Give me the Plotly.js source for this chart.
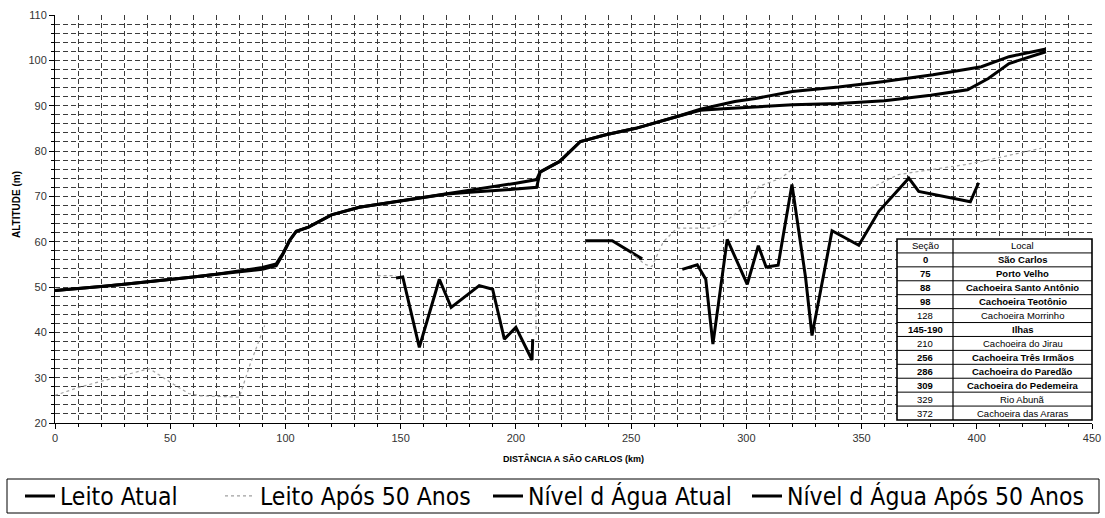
<!DOCTYPE html>
<html>
<head>
<meta charset="utf-8">
<script src="https://cdn.plot.ly/plotly-3.0.1.min.js"></script>
<style>html,body{margin:0;padding:0;background:#fff;}#chart{width:1105px;height:518px;}</style>
</head>
<body>
<div id="chart"></div>
<script>
// ---- data ----
const nivelAtualX = [0, 10, 20, 30, 40, 50, 60, 70, 80, 90, 96, 98.9, 101.8, 104.7, 110, 120, 132, 145, 150, 160, 170, 180, 190, 200, 209, 210.5, 219, 228, 239, 252, 270, 280, 290, 300, 320, 340, 360, 380, 396, 405, 414, 430];
const nivelAtualY = [49.2, 49.6, 50.1, 50.6, 51.1, 51.6, 52.2, 52.8, 53.3, 53.9, 54.7, 57.2, 60.2, 62.3, 63.2, 65.9, 67.6, 68.6, 69.1, 69.8, 70.5, 70.9, 71.2, 71.6, 72.0, 75.3, 77.7, 82.1, 83.6, 85.0, 87.6, 89.0, 89.3, 89.6, 90.2, 90.5, 91.1, 92.3, 93.5, 96.0, 99.3, 101.9];

const nivelApos50X = [0, 10, 20, 30, 40, 50, 60, 70, 80, 90, 96, 98.9, 101.8, 104.7, 110, 120, 132, 145, 150, 160, 170, 180, 190, 200, 209, 210.5, 219, 228, 239, 252, 270, 280, 295, 304, 320, 340, 359, 381, 395, 402, 414, 430];
const nivelApos50Y = [49.2, 49.6, 50.1, 50.6, 51.1, 51.6, 52.2, 52.8, 53.6, 54.3, 55.1, 57.4, 60.3, 62.3, 63.2, 65.9, 67.6, 68.6, 69.1, 69.8, 70.6, 71.4, 72.2, 72.9, 73.7, 75.4, 77.7, 82.1, 83.6, 85.0, 87.6, 89.2, 90.9, 91.6, 93.1, 94.1, 95.3, 96.8, 98.0, 98.6, 100.8, 102.5];

const leitoAtualX = [148, 150.9, 158.1, 166.8, 171.9, 184.1, 189.9, 195, 200, 207, 207.3, null, 230.4, 241.8, 254.8, null, 272.2, 278.7, 282.4, 285.5, 291.7, 300.4, 305.2, 308.6, 313.8, 319.8, 325.7, 328.5, 337.2, 348.8, 357.5, 370.5, 374.8, 397.2, 400.8];
const leitoAtualY = [52.0, 52.2, 36.7, 51.7, 45.5, 50.3, 49.5, 38.5, 41.1, 33.9, 38.5, null, 60.2, 60.2, 56.2, null, 53.9, 54.9, 51.7, 37.4, 60.5, 50.6, 59.1, 54.4, 54.8, 72.6, 52.1, 39.3, 62.4, 59.2, 66.7, 74.0, 71.1, 68.8, 73.0];

const leitoApos50X = [0, 10, 20, 30, 41, 50, 58, 63, 72, 80, 84.5, 91, null, 140, 148, null, 208.5, 208.8, null, 250, 256, 259, 264, 270, 284, 291, 300, 305.5, 315, 320, null, 354, 366, 375, 395, 402, 428];
const leitoApos50Y = [26.1, 27.8, 29.2, 30.5, 32.0, 29.0, 26.5, 26.0, 25.8, 25.7, 32.7, 41.5, null, 52.5, 52.5, null, 52.0, 39.0, null, 57.5, 55.0, 54.5, 60.0, 63.0, 63.0, 64.5, 68.0, 72.2, 74.0, 76.0, null, 71.8, 74.8, 75.5, 77.0, 77.7, 80.6];

const tabelaCabecalho = ['Seção', 'Local'];
const tabelaSecao = ['0', '75', '88', '98', '128', '145-190', '210', '256', '286', '309', '329', '372'];
const tabelaLocal = ['São Carlos', 'Porto Velho', 'Cachoeira Santo Antônio', 'Cachoeira Teotônio', 'Cachoeira Morrinho', 'Ilhas', 'Cachoeira do Jirau', 'Cachoeira Três Irmãos', 'Cachoeira do Paredão', 'Cachoeira do Pedemeira', 'Rio Abunã', 'Cachoeira das Araras'];
const tabelaNegrito = [true, true, true, true, false, true, false, true, true, true, false, false];

// ---- layout helpers (pixels) ----
const W = 1105, H = 518, ML = 55, MR = 13, MT = 15, MB = 95;
const PW = W - ML - MR, PH = H - MT - MB;
const px = x => (x - ML) / PW;
const py = y => (H - MB - y) / PH;

const legFont = {family: 'Liberation Sans Narrow, Arial Narrow, DejaVu Sans Condensed, sans-serif', size: 24.5, color: '#000'};
const tabFont = 'Arial, Liberation Sans, sans-serif';

const traces = [
  {type: 'scatter', mode: 'lines', name: 'Leito Atual', x: leitoAtualX, y: leitoAtualY, connectgaps: false,
   line: {color: '#000', width: 3}, legend: 'legend'},
  {type: 'scatter', mode: 'lines', name: 'Leito Após 50 Anos', x: leitoApos50X, y: leitoApos50Y, connectgaps: false,
   line: {color: '#a0a0a0', width: 1.2, dash: 'dot'}, legend: 'legend2'},
  {type: 'scatter', mode: 'lines', name: 'Nível d Água Atual', x: nivelAtualX, y: nivelAtualY,
   line: {color: '#000', width: 3}, legend: 'legend3'},
  {type: 'scatter', mode: 'lines', name: 'Nível d Água Após 50 Anos', x: nivelApos50X, y: nivelApos50Y,
   line: {color: '#000', width: 3}, legend: 'legend4'}
];

// ---- table (shapes + annotations) ----
const tX0 = 897, tXm = 953, tX1 = 1092, tY0 = 239, tY1 = 420;
const nRows = tabelaSecao.length + 1;
const rowH = (tY1 - tY0) / nRows;
const shapes = [
  {type: 'rect', xref: 'paper', yref: 'paper', x0: px(tX0), x1: px(tX1), y0: py(tY1), y1: py(tY0),
   line: {color: '#000', width: 1.6}, fillcolor: '#fff', layer: 'above'},
  {type: 'line', xref: 'paper', yref: 'paper', x0: px(tXm), x1: px(tXm), y0: py(tY1), y1: py(tY0),
   line: {color: '#000', width: 1.2}, layer: 'above'}
];
for (let i = 1; i < nRows; i++) {
  const yy = tY0 + i * rowH;
  shapes.push({type: 'line', xref: 'paper', yref: 'paper', x0: px(tX0), x1: px(tX1), y0: py(yy), y1: py(yy),
               line: {color: '#000', width: 1}, layer: 'above'});
}
shapes.push({type: 'rect', xref: 'paper', yref: 'paper', x0: px(7), x1: px(1099), y0: py(513), y1: py(479),
             line: {color: '#000', width: 1}, fillcolor: 'rgba(0,0,0,0)'});

const annotations = [];
const cellAnn = (txt, cx, row, bold) => ({
  xref: 'paper', yref: 'paper', x: px(cx), y: py(tY0 + (row + 0.5) * rowH), xanchor: 'center', yanchor: 'middle',
  showarrow: false, text: bold ? '<b>' + txt + '</b>' : txt,
  font: {family: tabFont, size: 9.5, color: '#000'}
});
annotations.push(cellAnn(tabelaCabecalho[0], (tX0 + tXm) / 2, 0, false));
annotations.push(cellAnn(tabelaCabecalho[1], (tXm + tX1) / 2, 0, false));
tabelaSecao.forEach((s, i) => {
  annotations.push(cellAnn(s, (tX0 + tXm) / 2, i + 1, tabelaNegrito[i]));
  annotations.push(cellAnn(tabelaLocal[i], (tXm + tX1) / 2, i + 1, tabelaNegrito[i]));
});
annotations.push({xref: 'paper', yref: 'paper', x: px(16), y: py(205), xanchor: 'center', yanchor: 'middle',
                  showarrow: false, textangle: -90, text: '<b>ALTITUDE (m)</b>',
                  font: {family: tabFont, size: 10, color: '#000'}});

const gridCol = '#3c3c3c';
const legBase = {orientation: 'h', xref: 'container', yref: 'container', yanchor: 'middle', y: 1 - 496 / H,
                 xanchor: 'left', bgcolor: 'rgba(0,0,0,0)', borderwidth: 0, font: legFont};

const layout = {
  width: W, height: H,
  margin: {l: ML, r: MR, t: MT, b: MB, pad: 0},
  paper_bgcolor: '#fff', plot_bgcolor: '#fff',
  font: {family: 'Arial, Liberation Sans, sans-serif', color: '#000'},
  xaxis: {range: [0, 450], tickmode: 'linear', tick0: 0, dtick: 50, showgrid: true, gridcolor: gridCol, griddash: '5px,3px', gridwidth: 1,
          zeroline: false, showline: true, linecolor: '#000', linewidth: 1, ticks: 'outside', ticklen: 5, tickcolor: '#000',
          tickfont: {size: 11, color: '#333'},
          minor: {dtick: 10, showgrid: true, gridcolor: gridCol, griddash: '5px,3px', gridwidth: 1, ticks: 'outside', ticklen: 3, tickcolor: '#000'},
          title: {text: '<b>DISTÂNCIA A SÃO CARLOS (km)</b>', font: {size: 9, color: '#000'}, standoff: 12}},
  yaxis: {range: [20, 110], tickmode: 'linear', tick0: 20, dtick: 10, showgrid: true, gridcolor: gridCol, griddash: '5px,3px', gridwidth: 1,
          zeroline: false, showline: true, linecolor: '#000', linewidth: 1, ticks: 'outside', ticklen: 5, tickcolor: '#000',
          tickfont: {size: 11, color: '#333'},
          minor: {dtick: 2, showgrid: true, gridcolor: gridCol, griddash: '5px,3px', gridwidth: 1, ticks: 'outside', ticklen: 3, tickcolor: '#000'}},
  showlegend: true,
  legend: Object.assign({}, legBase, {x: 20 / W}),
  legend2: Object.assign({}, legBase, {x: 220 / W}),
  legend3: Object.assign({}, legBase, {x: 488 / W}),
  legend4: Object.assign({}, legBase, {x: 747 / W}),
  shapes: shapes,
  annotations: annotations
};

Plotly.newPlot('chart', traces, layout, {displayModeBar: false, staticPlot: true});
</script>
</body>
</html>
